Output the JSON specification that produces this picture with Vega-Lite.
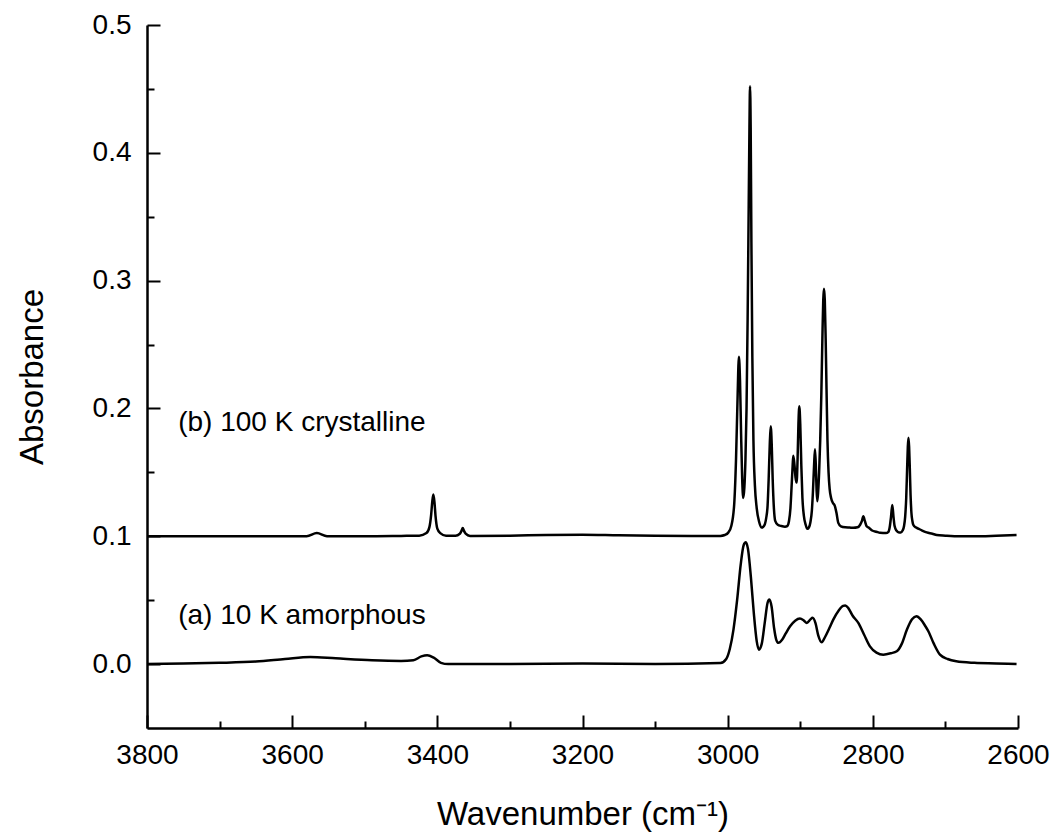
{
  "$schema": "https://vega.github.io/schema/vega-lite/v6.json",
  "width": 871,
  "height": 703,
  "autosize": {"type": "none"},
  "padding": {"left": 147, "top": 25, "right": 37, "bottom": 108},
  "background": "white",
  "config": {
    "view": {"stroke": null},
    "axis": {
      "grid": false,
      "domainColor": "black",
      "tickColor": "black",
      "labelColor": "black",
      "titleColor": "black",
      "labelFont": "Liberation Sans",
      "titleFont": "Liberation Sans",
      "titleFontWeight": "normal"
    }
  },
  "datasets": {
    "amorphous": [
      {"wn": 3800, "abs": 0.0}, {"wn": 3750, "abs": 0.0005}, {"wn": 3700, "abs": 0.001}, {"wn": 3650, "abs": 0.002},
      {"wn": 3610, "abs": 0.004}, {"wn": 3575, "abs": 0.0056}, {"wn": 3540, "abs": 0.0045}, {"wn": 3490, "abs": 0.003},
      {"wn": 3450, "abs": 0.0025}, {"wn": 3433, "abs": 0.003}, {"wn": 3422, "abs": 0.006}, {"wn": 3414, "abs": 0.0069},
      {"wn": 3405, "abs": 0.005}, {"wn": 3395, "abs": 0.001}, {"wn": 3385, "abs": 0.0}, {"wn": 3300, "abs": 0.0},
      {"wn": 3200, "abs": 0.0005}, {"wn": 3100, "abs": 0.0}, {"wn": 3010, "abs": 0.0008}, {"wn": 3002, "abs": 0.004},
      {"wn": 2997, "abs": 0.012}, {"wn": 2992, "abs": 0.027}, {"wn": 2987, "abs": 0.05}, {"wn": 2982, "abs": 0.078},
      {"wn": 2978, "abs": 0.093}, {"wn": 2975, "abs": 0.0953}, {"wn": 2972, "abs": 0.09}, {"wn": 2968, "abs": 0.068},
      {"wn": 2964, "abs": 0.04}, {"wn": 2960, "abs": 0.018}, {"wn": 2957, "abs": 0.0113}, {"wn": 2953, "abs": 0.016},
      {"wn": 2949, "abs": 0.032}, {"wn": 2945, "abs": 0.048}, {"wn": 2942.5, "abs": 0.0505}, {"wn": 2939.5, "abs": 0.045},
      {"wn": 2936, "abs": 0.028}, {"wn": 2933, "abs": 0.019}, {"wn": 2930, "abs": 0.0166}, {"wn": 2925, "abs": 0.019},
      {"wn": 2920, "abs": 0.024}, {"wn": 2914, "abs": 0.0296}, {"wn": 2907, "abs": 0.034}, {"wn": 2900.4, "abs": 0.0356},
      {"wn": 2895, "abs": 0.034}, {"wn": 2891, "abs": 0.0322}, {"wn": 2886, "abs": 0.035}, {"wn": 2883, "abs": 0.0362},
      {"wn": 2879, "abs": 0.032}, {"wn": 2875, "abs": 0.022}, {"wn": 2870.5, "abs": 0.017}, {"wn": 2866, "abs": 0.021},
      {"wn": 2860, "abs": 0.028}, {"wn": 2854.5, "abs": 0.0348}, {"wn": 2847, "abs": 0.042}, {"wn": 2841, "abs": 0.0455},
      {"wn": 2838, "abs": 0.0458}, {"wn": 2834, "abs": 0.044}, {"wn": 2828, "abs": 0.038}, {"wn": 2820, "abs": 0.0322},
      {"wn": 2812, "abs": 0.023}, {"wn": 2804, "abs": 0.0139}, {"wn": 2795, "abs": 0.009}, {"wn": 2785.6, "abs": 0.0074},
      {"wn": 2775, "abs": 0.0085}, {"wn": 2767, "abs": 0.01}, {"wn": 2760, "abs": 0.016}, {"wn": 2753, "abs": 0.027},
      {"wn": 2746, "abs": 0.035}, {"wn": 2740, "abs": 0.0374}, {"wn": 2734, "abs": 0.035}, {"wn": 2728, "abs": 0.03},
      {"wn": 2723.5, "abs": 0.0257}, {"wn": 2716, "abs": 0.016}, {"wn": 2707.5, "abs": 0.0074}, {"wn": 2697, "abs": 0.004},
      {"wn": 2685, "abs": 0.0022}, {"wn": 2660, "abs": 0.001}, {"wn": 2630, "abs": 0.0005}, {"wn": 2602, "abs": 0.0}
    ],
    "crystalline": [
      {"wn": 3800, "abs": 0.1}, {"wn": 3700, "abs": 0.1}, {"wn": 3600, "abs": 0.1}, {"wn": 3580, "abs": 0.1},
      {"wn": 3566, "abs": 0.1025}, {"wn": 3552, "abs": 0.1}, {"wn": 3500, "abs": 0.1}, {"wn": 3450, "abs": 0.1003},
      {"wn": 3425, "abs": 0.1005}, {"wn": 3415, "abs": 0.1025}, {"wn": 3411, "abs": 0.107}, {"wn": 3408.5, "abs": 0.117},
      {"wn": 3407, "abs": 0.127}, {"wn": 3405.5, "abs": 0.1326}, {"wn": 3404, "abs": 0.127}, {"wn": 3402.5, "abs": 0.116},
      {"wn": 3400, "abs": 0.106}, {"wn": 3396, "abs": 0.1025}, {"wn": 3388, "abs": 0.1005}, {"wn": 3375, "abs": 0.1005},
      {"wn": 3369, "abs": 0.102}, {"wn": 3366.5, "abs": 0.1045}, {"wn": 3365, "abs": 0.1065}, {"wn": 3363.5, "abs": 0.1045},
      {"wn": 3361, "abs": 0.102}, {"wn": 3355, "abs": 0.1003}, {"wn": 3300, "abs": 0.1005}, {"wn": 3250, "abs": 0.101},
      {"wn": 3200, "abs": 0.1012}, {"wn": 3150, "abs": 0.1008}, {"wn": 3100, "abs": 0.1005}, {"wn": 3050, "abs": 0.1003},
      {"wn": 3010, "abs": 0.1003}, {"wn": 3004, "abs": 0.101}, {"wn": 2999, "abs": 0.103}, {"wn": 2995, "abs": 0.108},
      {"wn": 2991, "abs": 0.125}, {"wn": 2988.5, "abs": 0.16}, {"wn": 2986.5, "abs": 0.205}, {"wn": 2984.5, "abs": 0.2404},
      {"wn": 2983, "abs": 0.222}, {"wn": 2981.5, "abs": 0.18}, {"wn": 2980, "abs": 0.145}, {"wn": 2978.5, "abs": 0.13},
      {"wn": 2977, "abs": 0.138}, {"wn": 2975.5, "abs": 0.16}, {"wn": 2974, "abs": 0.2}, {"wn": 2972.5, "abs": 0.27},
      {"wn": 2971, "abs": 0.36}, {"wn": 2970, "abs": 0.42}, {"wn": 2969.2, "abs": 0.452}, {"wn": 2968.3, "abs": 0.42},
      {"wn": 2967.3, "abs": 0.33}, {"wn": 2966, "abs": 0.24}, {"wn": 2964.5, "abs": 0.175}, {"wn": 2962.5, "abs": 0.14},
      {"wn": 2960, "abs": 0.122}, {"wn": 2956.5, "abs": 0.111}, {"wn": 2953, "abs": 0.1068}, {"wn": 2950, "abs": 0.108},
      {"wn": 2947, "abs": 0.114}, {"wn": 2945, "abs": 0.124}, {"wn": 2943.5, "abs": 0.145}, {"wn": 2942, "abs": 0.172},
      {"wn": 2940.7, "abs": 0.186}, {"wn": 2939.3, "abs": 0.172}, {"wn": 2938, "abs": 0.145}, {"wn": 2936.5, "abs": 0.124},
      {"wn": 2934.5, "abs": 0.112}, {"wn": 2931, "abs": 0.109}, {"wn": 2926, "abs": 0.108}, {"wn": 2921, "abs": 0.1075},
      {"wn": 2918, "abs": 0.108}, {"wn": 2915.5, "abs": 0.112}, {"wn": 2913.5, "abs": 0.122}, {"wn": 2912, "abs": 0.138},
      {"wn": 2910.5, "abs": 0.155}, {"wn": 2909.6, "abs": 0.163}, {"wn": 2908, "abs": 0.156}, {"wn": 2906.5, "abs": 0.146},
      {"wn": 2905, "abs": 0.142}, {"wn": 2903.7, "abs": 0.16}, {"wn": 2902.5, "abs": 0.188}, {"wn": 2901.3, "abs": 0.2017},
      {"wn": 2900, "abs": 0.188}, {"wn": 2898.5, "abs": 0.155}, {"wn": 2897, "abs": 0.13}, {"wn": 2895, "abs": 0.116},
      {"wn": 2892.5, "abs": 0.109}, {"wn": 2890.3, "abs": 0.1058}, {"wn": 2888, "abs": 0.107}, {"wn": 2886, "abs": 0.111},
      {"wn": 2884, "abs": 0.12}, {"wn": 2882.5, "abs": 0.135}, {"wn": 2881, "abs": 0.155}, {"wn": 2879.7, "abs": 0.168},
      {"wn": 2878.5, "abs": 0.155}, {"wn": 2877.5, "abs": 0.136}, {"wn": 2876.5, "abs": 0.1274}, {"wn": 2875.3, "abs": 0.135},
      {"wn": 2874, "abs": 0.15}, {"wn": 2872.5, "abs": 0.175}, {"wn": 2871, "abs": 0.21}, {"wn": 2869.5, "abs": 0.255},
      {"wn": 2868.3, "abs": 0.285}, {"wn": 2867.3, "abs": 0.2936}, {"wn": 2866.2, "abs": 0.285}, {"wn": 2865, "abs": 0.255},
      {"wn": 2863.8, "abs": 0.215}, {"wn": 2862.5, "abs": 0.175}, {"wn": 2861, "abs": 0.15}, {"wn": 2859.5, "abs": 0.137},
      {"wn": 2857.5, "abs": 0.13}, {"wn": 2855, "abs": 0.126}, {"wn": 2852.5, "abs": 0.124}, {"wn": 2850, "abs": 0.118},
      {"wn": 2847.6, "abs": 0.1105}, {"wn": 2844, "abs": 0.1078}, {"wn": 2838, "abs": 0.107}, {"wn": 2832, "abs": 0.1068},
      {"wn": 2826.9, "abs": 0.1066}, {"wn": 2821, "abs": 0.107}, {"wn": 2817.5, "abs": 0.109}, {"wn": 2815, "abs": 0.112},
      {"wn": 2813.1, "abs": 0.1157}, {"wn": 2811, "abs": 0.112}, {"wn": 2808.5, "abs": 0.1078}, {"wn": 2805, "abs": 0.1065},
      {"wn": 2801, "abs": 0.1045}, {"wn": 2795, "abs": 0.1035}, {"wn": 2790, "abs": 0.1027}, {"wn": 2782, "abs": 0.1025},
      {"wn": 2778.5, "abs": 0.1035}, {"wn": 2776.5, "abs": 0.108}, {"wn": 2775, "abs": 0.115}, {"wn": 2773.2, "abs": 0.1244},
      {"wn": 2771.5, "abs": 0.115}, {"wn": 2770, "abs": 0.108}, {"wn": 2767.5, "abs": 0.1045}, {"wn": 2764, "abs": 0.103},
      {"wn": 2761.6, "abs": 0.103}, {"wn": 2759, "abs": 0.1045}, {"wn": 2757, "abs": 0.108}, {"wn": 2755.5, "abs": 0.115},
      {"wn": 2754, "abs": 0.13}, {"wn": 2752.8, "abs": 0.152}, {"wn": 2751.8, "abs": 0.17}, {"wn": 2750.9, "abs": 0.177},
      {"wn": 2750, "abs": 0.17}, {"wn": 2749, "abs": 0.152}, {"wn": 2748, "abs": 0.132}, {"wn": 2746.8, "abs": 0.118},
      {"wn": 2745.5, "abs": 0.112}, {"wn": 2744.3, "abs": 0.109}, {"wn": 2741, "abs": 0.107}, {"wn": 2737.4, "abs": 0.106},
      {"wn": 2732, "abs": 0.1045}, {"wn": 2725.8, "abs": 0.103}, {"wn": 2718, "abs": 0.102}, {"wn": 2712, "abs": 0.101},
      {"wn": 2700, "abs": 0.1005}, {"wn": 2680, "abs": 0.1}, {"wn": 2650, "abs": 0.1}, {"wn": 2630, "abs": 0.1005},
      {"wn": 2602, "abs": 0.101}
    ],
    "labels": [
      {"wn": 3757, "abs": 0.1822, "label": "(b) 100 K crystalline"},
      {"wn": 3757, "abs": 0.0317, "label": "(a) 10 K amorphous"}
    ]
  },
  "resolve": {"axis": {"x": "independent", "y": "independent"}},
  "layer": [
    {
      "data": {"name": "amorphous"},
      "mark": {"type": "line", "color": "black", "strokeWidth": 2.5, "interpolate": "monotone"},
      "encoding": {
        "x": {
          "field": "wn", "type": "quantitative",
          "scale": {"domain": [3800, 2600], "nice": false, "zero": false},
          "axis": {
            "orient": "bottom",
            "values": [3800, 3600, 3400, 3200, 3000, 2800, 2600],
            "format": "d",
            "title": "Wavenumber (cm⁻¹)",
            "titleFontSize": 33,
            "titlePadding": 29,
            "labelFontSize": 28,
            "labelPadding": 26,
            "labelFlush": false,
            "tickSize": -13,
            "tickWidth": 2,
            "domainWidth": 2.5
          }
        },
        "y": {
          "field": "abs", "type": "quantitative",
          "scale": {"domain": [-0.05, 0.5], "nice": false, "zero": false},
          "axis": {
            "orient": "left",
            "values": [0, 0.1, 0.2, 0.3, 0.4, 0.5],
            "format": ".1f",
            "title": "Absorbance",
            "titleFontSize": 33,
            "titlePadding": 43,
            "labelFontSize": 28,
            "labelPadding": 29,
            "labelFlush": false,
            "tickSize": -13,
            "tickWidth": 2,
            "domainWidth": 2.5
          }
        }
      }
    },
    {
      "data": {"name": "crystalline"},
      "mark": {"type": "line", "color": "black", "strokeWidth": 2.5, "interpolate": "monotone"},
      "encoding": {
        "x": {
          "field": "wn", "type": "quantitative",
          "scale": {"domain": [3800, 2600], "nice": false, "zero": false},
          "axis": {
            "orient": "bottom",
            "values": [3700, 3500, 3300, 3100, 2900, 2700],
            "labels": false,
            "domain": false,
            "title": null,
            "tickSize": -7,
            "tickWidth": 2
          }
        },
        "y": {
          "field": "abs", "type": "quantitative",
          "scale": {"domain": [-0.05, 0.5], "nice": false, "zero": false},
          "axis": {
            "orient": "left",
            "values": [0.05, 0.15, 0.25, 0.35, 0.45],
            "labels": false,
            "domain": false,
            "title": null,
            "tickSize": -7,
            "tickWidth": 2
          }
        }
      }
    },
    {
      "data": {"name": "labels"},
      "mark": {"type": "text", "align": "left", "baseline": "alphabetic", "font": "Liberation Sans", "fontSize": 28, "color": "black"},
      "encoding": {
        "x": {"field": "wn", "type": "quantitative", "scale": {"domain": [3800, 2600], "nice": false, "zero": false}, "axis": null},
        "y": {"field": "abs", "type": "quantitative", "scale": {"domain": [-0.05, 0.5], "nice": false, "zero": false}, "axis": null},
        "text": {"field": "label"}
      }
    }
  ]
}
